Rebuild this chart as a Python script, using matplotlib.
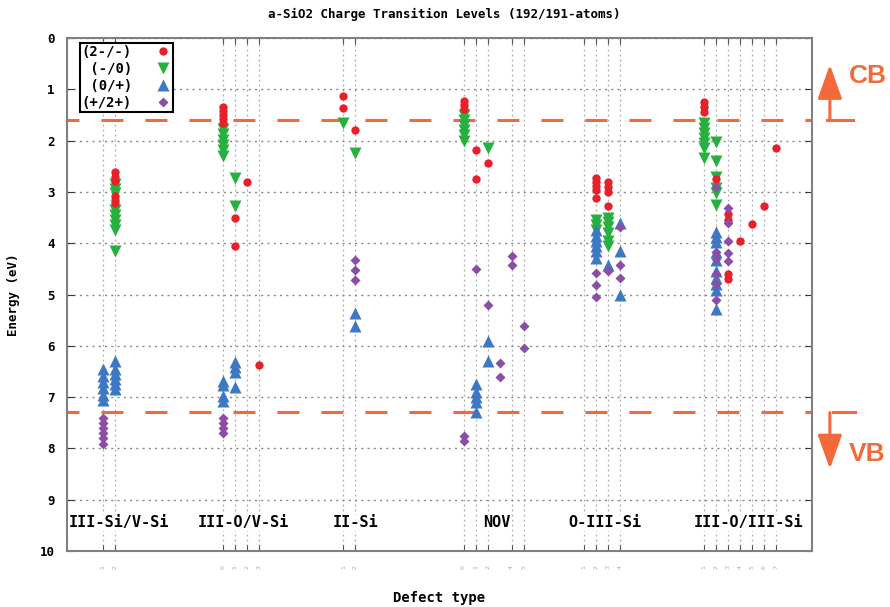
import matplotlib
matplotlib.use('Agg')
import matplotlib.pyplot as plt

# charge transition levels, x = defect column index, e = energy (eV)
red_x = [4, 4, 4, 4, 4, 4, 13, 13, 13, 13, 13, 14, 14, 15, 16, 23, 23, 24, 33, 33, 33, 34, 34, 35,
         44, 44, 44, 44, 44, 45, 45, 45, 45, 53, 53, 53, 54, 55, 55, 55, 55, 56, 57, 58, 59]
red_e = [2.62, 2.7, 2.78, 3.08, 3.15, 3.22, 1.35, 1.42, 1.5, 1.58, 1.65, 3.5, 4.05, 2.8, 6.37,
         1.14, 1.37, 1.79, 1.22, 1.3, 1.38, 2.18, 2.75, 2.43,
         2.72, 2.8, 2.88, 2.96, 3.12, 2.8, 2.9, 3.0, 3.28, 1.25, 1.35, 1.45, 2.75,
         3.44, 3.54, 4.6, 4.7, 3.96, 3.62, 3.28, 2.14]

green_x = [4, 4, 4, 4, 4, 4, 4, 4, 4, 13, 13, 13, 13, 13, 13, 14, 14, 23, 24,
           33, 33, 33, 33, 33, 33, 35, 44, 44, 44, 45, 45, 45, 45, 45, 45,
           53, 53, 53, 53, 53, 53, 53, 54, 54, 54, 54, 54, 54]
green_e = [2.85, 2.95, 3.02, 3.35, 3.45, 3.55, 3.65, 3.75, 4.15, 1.78, 1.88, 1.98, 2.08, 2.18, 2.3,
           2.72, 3.28, 1.66, 2.24, 1.5, 1.6, 1.7, 1.8, 1.9, 2.0, 2.14, 3.55, 3.65, 3.75,
           3.5, 3.58, 3.68, 3.8, 3.95, 4.05, 1.65, 1.75, 1.85, 1.95, 2.05, 2.15, 2.34,
           2.03, 2.4, 2.7, 2.92, 3.02, 3.25]

blue_x = [3, 3, 3, 3, 3, 3, 4, 4, 4, 4, 4, 4, 13, 13, 13, 13, 14, 14, 14, 14, 24, 24,
          34, 34, 34, 34, 34, 35, 35, 44, 44, 44, 44, 44, 44, 45, 46, 46, 46,
          54, 54, 54, 54, 54, 54, 54, 54, 54, 54]
blue_e = [6.45, 6.58, 6.7, 6.82, 6.95, 7.05, 6.3, 6.45, 6.55, 6.65, 6.75, 6.85,
          6.68, 6.76, 6.98, 7.08, 6.32, 6.42, 6.52, 6.8, 5.37, 5.62,
          6.75, 6.9, 7.0, 7.1, 7.3, 5.9, 6.3, 3.75, 3.85, 3.95, 4.05, 4.15, 4.28, 4.42,
          3.6, 4.16, 5.0, 3.78, 3.88, 3.97, 4.18, 4.32, 4.55, 4.68, 4.8, 4.92, 5.28]

purple_x = [3, 3, 3, 3, 3, 3, 13, 13, 13, 13, 24, 24, 24, 33, 33, 34, 35, 36, 36, 37, 37, 38, 38,
            44, 44, 44, 45, 46, 46, 46, 54, 54, 54, 54, 54, 54, 55, 55, 55, 55, 55]
purple_e = [7.4, 7.5, 7.6, 7.7, 7.8, 7.92, 7.4, 7.5, 7.6, 7.7, 4.33, 4.52, 4.72, 7.75, 7.85,
            4.5, 5.2, 6.33, 6.61, 4.25, 4.42, 5.62, 6.04, 4.58, 4.81, 5.04, 4.55,
            3.68, 4.42, 4.68, 2.9, 4.17, 4.3, 4.6, 4.8, 5.1, 3.31, 3.6, 3.96, 4.19, 4.35]

tick_pos = [3, 4, 13, 14, 15, 16, 23, 24, 33, 34, 35, 37, 38, 43, 44, 45, 46,
            53, 54, 55, 56, 57, 58, 59]
tick_lab = ['1', '2', '0', '1', '2', '3', '1', '2', '0', '1', '2', '4', '5', '1', '2', '3', '4',
            '1', '2', '3', '4', '5', '6', '7']

groups = ['III-Si/V-Si', 'III-O/V-Si', 'II-Si', 'NOV', 'O-III-Si', 'III-O/III-Si']
group_x = [4.3, 14.7, 24.0, 35.8, 44.8, 56.7]

cb_level = 1.6
vb_level = 7.3

orange = '#f26a3a'
mono = 'DejaVu Sans Mono'

fig = plt.figure(figsize=(8.9, 6.07), dpi=100)
ax = fig.add_axes([67 / 890, 1 - 551 / 607, 745 / 890, 513 / 607])

ax.plot(red_x, red_e, 'o', color='#e8202a', ms=6, mec='none', label='(2-/-)', zorder=4)
ax.plot(green_x, green_e, 'v', color='#27b03f', ms=8, mec='none', label=' (-/0)', zorder=3)
ax.plot(blue_x, blue_e, '^', color='#3d78c5', ms=8, mec='none', label=' (0/+)', zorder=3)
ax.plot(purple_x, purple_e, 'D', color='#8b4ea6', ms=5, mec='none', label='(+/2+)', zorder=4)

# band edges
for lev in [cb_level, vb_level]:
    ax.axhline(lev, color=orange, lw=2.2, linestyle=(3.3, (7.2, 7.2)), zorder=2)

ax.set_xlim(0, 62)
ax.set_ylim(10, 0)
ax.set_yticks(range(0, 11))
ax.set_xticks(tick_pos)
ax.set_xticklabels(tick_lab, rotation=90, fontsize=4.5, color='#aaaaaa')
ax.tick_params(axis='x', direction='in', top=True, length=4, color='#555555', pad=10)
ax.tick_params(axis='y', direction='in', right=True, length=5, color='#333333', pad=9)
for t in ax.get_yticklabels():
    t.set_fontfamily(mono)
    t.set_fontweight('bold')
    t.set_fontsize(9)

ax.grid(axis='y', linestyle=(0, (1.5, 3)), color='#888888', lw=1)
ax.grid(axis='x', linestyle=(0, (1.5, 2.5)), color='#aaaaaa', lw=0.9)
ax.set_axisbelow(True)
for s in ax.spines.values():
    s.set_color('#808080')
    s.set_linewidth(1.5)

for name, gx in zip(groups, group_x):
    ax.text(gx, 9.45, name, ha='center', va='center', family=mono, weight='bold', fontsize=11,
            bbox=dict(facecolor='white', edgecolor='none', pad=0.5), zorder=5)

ax.set_ylabel('Energy (eV)', family=mono, weight='bold', fontsize=9, labelpad=14)
ax.set_xlabel('Defect type', family=mono, weight='bold', fontsize=10, labelpad=16)
fig.text(0.4995, 1 - 14 / 607, 'a-SiO2 Charge Transition Levels (192/191-atoms)',
         ha='center', va='center', family=mono, weight='bold', fontsize=9)

leg = ax.legend(loc='upper left', bbox_to_anchor=(0.017, 0.99), borderaxespad=0, markerfirst=False,
                numpoints=1, fancybox=False, edgecolor='black', framealpha=1,
                prop=dict(family=mono, weight='bold', size=10), handlelength=1.2,
                handletextpad=1.6, borderpad=0.15, labelspacing=0.2)
leg.get_frame().set_linewidth(1.5)

# CB / VB arrows outside the frame
tr = ax.get_yaxis_transform()
ax.plot([1.02, 1.055], [cb_level, cb_level], transform=tr, color=orange, lw=2.2, clip_on=False)
ax.plot([1.028, 1.058], [vb_level, vb_level], transform=tr, color=orange, lw=2.2, clip_on=False)
ax.annotate('', xy=(1.024, 0.52), xytext=(1.024, cb_level), xycoords=tr, textcoords=tr,
            arrowprops=dict(arrowstyle='-|>,head_length=2.1,head_width=0.75', color=orange,
                            lw=2.2, shrinkA=0, shrinkB=0))
ax.annotate('', xy=(1.024, 8.4), xytext=(1.024, vb_level), xycoords=tr, textcoords=tr,
            arrowprops=dict(arrowstyle='-|>,head_length=2.1,head_width=0.75', color=orange,
                            lw=2.2, shrinkA=0, shrinkB=0))
ax.text(1.05, 0.75, 'CB', transform=tr, color=orange, family='Liberation Sans', weight='bold',
        fontsize=19, va='center', ha='left')
ax.text(1.05, 8.1, 'VB', transform=tr, color=orange, family='Liberation Sans', weight='bold',
        fontsize=19, va='center', ha='left')

fig.savefig('out.png', dpi=100)
